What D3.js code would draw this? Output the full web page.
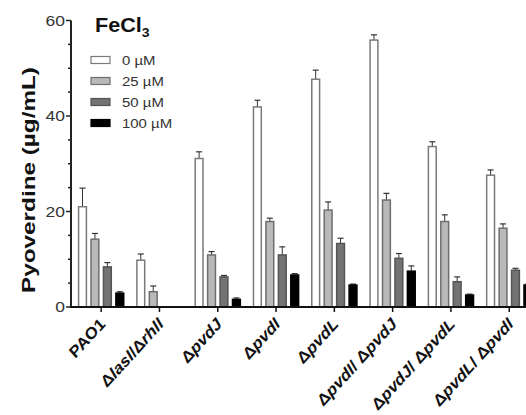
<!DOCTYPE html>
<html><head><meta charset="utf-8">
<script src="https://cdn.jsdelivr.net/npm/d3@7"></script>
<style>body{margin:0;background:#fff}svg{display:block}text{font-family:"Liberation Sans",Arial,sans-serif}</style>
</head><body><svg id="c" width="526" height="415"></svg>
<script>
const strains = ["PAO1","ΔlasI/ΔrhlI","ΔpvdJ","ΔpvdI","ΔpvdL","ΔpvdI/ ΔpvdJ","ΔpvdJ/ ΔpvdL","ΔpvdL/ ΔpvdI"];
const concentrations = ["0 µM","25 µM","50 µM","100 µM"];
const mean0   = [21.0, 9.8, 31.1, 41.9, 47.7, 55.9, 33.6, 27.6];
const err0    = [3.9, 1.3, 1.4, 1.4, 1.9, 1.1, 1.0, 1.1];
const mean25  = [14.2, 3.2, 10.9, 17.9, 20.3, 22.4, 17.9, 16.5];
const err25   = [1.2, 1.2, 0.7, 0.7, 1.7, 1.4, 1.4, 0.9];
const mean50  = [8.4, 0, 6.3, 10.9, 13.3, 10.2, 5.3, 7.7];
const err50   = [0.9, 0, 0.3, 1.7, 1.1, 1.0, 1.0, 0.4];
const mean100 = [2.9, 0, 1.6, 6.7, 4.6, 7.5, 2.5, 4.6];
const err100  = [0.3, 0, 0.3, 0.3, 0.2, 1.1, 0.2, 0.2];
const yMajorTicks = [0, 20, 40, 60];
const yMinorTicks = [5,10,15,25,30,35,45,50,55];

const fills = ["#ffffff","#b9b9b9","#737373","#000000"];
const strokes = ["#7a7a7a","#6e6e6e","#555555","#000000"];
const means = [mean0, mean25, mean50, mean100];
const errs = [err0, err25, err50, err100];

const svg = d3.select("#c");
const x0 = d3.scaleBand().domain(strains).range([72, 538.4]).paddingInner(0.2).paddingOuter(0.1);
const x1 = d3.scaleBand().domain(concentrations).range([0, x0.bandwidth()]).paddingInner(0.25);
const y = d3.scaleLinear().domain([0, 60]).range([307, 20.5]);

const data = [];
strains.forEach((s, i) => concentrations.forEach((c, j) => {
  data.push({s, c, j, v: means[j][i], e: errs[j][i]});
}));

// error bars
const eb = svg.append("g");
data.filter(d => d.v > 0).forEach(d => {
  const cx = x0(d.s) + x1(d.c) + x1.bandwidth()/2;
  eb.append("line").attr("x1", cx).attr("x2", cx).attr("y1", y(d.v)).attr("y2", y(d.v + d.e))
    .attr("stroke", "#333").attr("stroke-width", 1);
  eb.append("line").attr("x1", cx - 3).attr("x2", cx + 3).attr("y1", y(d.v + d.e)).attr("y2", y(d.v + d.e))
    .attr("stroke", "#333").attr("stroke-width", 1.2);
});

// bars
svg.append("g").selectAll("rect").data(data.filter(d => d.v > 0)).join("rect")
  .attr("x", d => x0(d.s) + x1(d.c) + 0.75)
  .attr("width", x1.bandwidth() - 1.5)
  .attr("y", d => y(d.v))
  .attr("height", d => y(0) - y(d.v))
  .attr("fill", d => fills[d.j])
  .attr("stroke", d => strokes[d.j])
  .attr("stroke-width", 1.5);

// y axis
const ya = svg.append("g").attr("transform", "translate(71,0)");
ya.append("line").attr("x1", 0).attr("x2", 0).attr("y1", y(0) + 1).attr("y2", y(60)).attr("stroke", "#222").attr("stroke-width", 2);
ya.selectAll(".maj").data(yMajorTicks).join("line").attr("x1", -5).attr("x2", 0)
  .attr("y1", d => y(d)).attr("y2", d => y(d)).attr("stroke", "#222").attr("stroke-width", 1.5);
ya.selectAll(".min").data(yMinorTicks).join("line").attr("x1", -3).attr("x2", 0)
  .attr("y1", d => y(d)).attr("y2", d => y(d)).attr("stroke", "#222").attr("stroke-width", 1.5);
ya.selectAll("text").data(yMajorTicks).join("text")
  .attr("transform", d => `translate(-6,${y(d)}) scale(1.25,1)`).attr("dy", "0.36em")
  .attr("text-anchor", "end").attr("font-size", 14).attr("fill", "#333").text(d => d);

// x axis
const xa = svg.append("g");
xa.append("line").attr("x1", 70).attr("x2", 526).attr("y1", 307).attr("y2", 307).attr("stroke", "#111").attr("stroke-width", 2);
xa.selectAll(".t").data(strains).join("line").attr("x1", d => x0(d) + x0.bandwidth()/2).attr("x2", d => x0(d) + x0.bandwidth()/2)
  .attr("y1", 307).attr("y2", 312).attr("stroke", "#111").attr("stroke-width", 1.5);

function labelParts(s) {
  if (s === "PAO1") return [{t: "PAO1", it: false}];
  const parts = [];
  s.split("/").forEach((p, k) => {
    if (k > 0) parts.push({t: p.startsWith(" ") ? "/ " : "/", it: false});
    const q = p.trim();
    parts.push({t: "Δ", it: false});
    parts.push({t: q.slice(1), it: true});
  });
  return parts;
}
strains.forEach(s => {
  const cx = x0(s) + x0.bandwidth()/2;
  const t = xa.append("text").attr("transform", `translate(${cx + 5},${325}) scale(1,1.1) rotate(-45) scale(1.1,1)`)
    .attr("text-anchor", "end").attr("font-size", 15).attr("font-weight", "bold").attr("fill", "#111")
    .attr("xml:space", "preserve");
  labelParts(s).forEach(p => t.append("tspan").attr("font-style", p.it ? "italic" : "normal").text(p.t));
});

// y title
svg.append("text").attr("transform", "translate(35,180) rotate(-90) scale(1.35,1)").attr("text-anchor", "middle")
  .attr("font-size", 18).attr("font-weight", "bold").attr("fill", "#111").text("Pyoverdine (µg/mL)");

// legend
const lg = svg.append("g");
const ttl = lg.append("text").attr("transform", "translate(95,32) scale(1.08,1)").attr("font-size", 20).attr("font-weight", "bold").attr("fill", "#111");
ttl.append("tspan").text("FeCl");
ttl.append("tspan").attr("font-size", 13).attr("dy", 5).text("3");
concentrations.forEach((c, j) => {
  const cy = 60 + j * 21;
  lg.append("rect").attr("x", 91).attr("y", cy - 3.5).attr("width", 19).attr("height", 7)
    .attr("fill", fills[j]).attr("stroke", strokes[j]).attr("stroke-width", 1.2);
  lg.append("text").attr("transform", `translate(122,${cy}) scale(1.15,1)`).attr("dy", "0.36em")
    .attr("font-size", 13).attr("fill", "#333").text(c);
});
</script></body></html>
